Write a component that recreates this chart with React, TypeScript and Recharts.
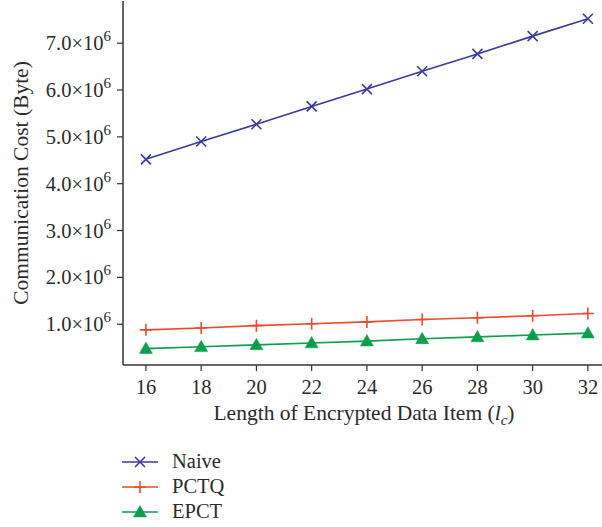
import { LineChart, Line, XAxis, YAxis } from 'recharts';

const lengths = [16, 18, 20, 22, 24, 26, 28, 30, 32];
const naive = [4.52e6, 4.9e6, 5.27e6, 5.65e6, 6.02e6, 6.4e6, 6.77e6, 7.15e6, 7.52e6];
const pctq = [0.88e6, 0.92e6, 0.97e6, 1.01e6, 1.05e6, 1.1e6, 1.14e6, 1.18e6, 1.23e6];
const epct = [0.48e6, 0.52e6, 0.56e6, 0.6e6, 0.64e6, 0.69e6, 0.73e6, 0.77e6, 0.81e6];
const yTicks = [1e6, 2e6, 3e6, 4e6, 5e6, 6e6, 7e6];

const data = lengths.map((l, i) => ({ l, naive: naive[i], pctq: pctq[i], epct: epct[i] }));

const FONT = '"Liberation Serif", "DejaVu Serif", serif';
const TEXT = '#2b2b2b';
const AXIS = '#333';

const SERIES = [
  { key: 'naive', name: 'Naive', color: '#3b3aa0', shape: 'x' },
  { key: 'pctq', name: 'PCTQ', color: '#ef4a2b', shape: 'plus' },
  { key: 'epct', name: 'EPCT', color: '#0b9f4c', shape: 'tri' },
];

function Marker({ cx, cy, shape, color }: any) {
  if (cx == null || cy == null) return null;
  if (shape === 'x') {
    const s = 5;
    return (
      <path d={`M${cx - s},${cy - s}L${cx + s},${cy + s}M${cx - s},${cy + s}L${cx + s},${cy - s}`} stroke={color} strokeWidth={1.6} fill="none" />
    );
  }
  if (shape === 'plus') {
    const s = 6;
    return <path d={`M${cx - s},${cy}L${cx + s},${cy}M${cx},${cy - s}L${cx},${cy + s}`} stroke={color} strokeWidth={1.6} fill="none" />;
  }
  const s = 6.5;
  return <path d={`M${cx},${cy - s}L${cx + s},${cy + s * 0.75}L${cx - s},${cy + s * 0.75}Z`} fill={color} stroke={color} strokeWidth={0.5} />;
}

function YTick({ x, y, payload }: any) {
  const mant = (payload.value / 1e6).toFixed(1);
  return (
    <text x={x - 4} y={y + 7} textAnchor="end" fontFamily={FONT} fontSize={20.5} fill={TEXT}>
      {mant}×10
      <tspan dy={-9} fontSize={15}>6</tspan>
    </text>
  );
}

function XTick({ x, y, payload }: any) {
  return (
    <text x={x} y={y + 21} textAnchor="middle" fontFamily={FONT} fontSize={20.5} fill={TEXT}>
      {payload.value}
    </text>
  );
}

function LegendBox() {
  return (
    <div style={{ position: 'absolute', left: 122, top: 449, fontFamily: FONT, fontSize: 20.5, color: TEXT }}>
      {SERIES.map((s) => (
        <div key={s.key} style={{ display: 'flex', alignItems: 'center', height: 25 }}>
          <svg width={36} height={20} style={{ marginRight: 14 }}>
            <line x1={0} y1={10} x2={36} y2={10} stroke={s.color} strokeWidth={1.6} />
            <Marker cx={18} cy={10} shape={s.shape} color={s.color} />
          </svg>
          <span>{s.name}</span>
        </div>
      ))}
    </div>
  );
}

export default function App() {
  return (
    <div style={{ position: 'absolute', left: 0, top: 0, width: 602, height: 527, overflow: 'hidden', background: '#fff' }}>
      <LineChart width={612} height={527} data={data} margin={{ top: 1, right: 2, left: 0, bottom: 102 }}>
        <XAxis
          dataKey="l"
          type="number"
          domain={[15.17, 32.8]}
          ticks={lengths}
          allowDataOverflow
          height={60}
          axisLine={{ stroke: AXIS, strokeWidth: 1.5 }}
          tickLine={{ stroke: AXIS, strokeWidth: 1.2 }}
          tickSize={6}
          tick={<XTick />}
          interval={0}
        />
        <XAxis xAxisId="top" orientation="top" dataKey="l" type="number" domain={[15.17, 32.8]} height={0} tick={false} tickLine={false} axisLine={{ stroke: AXIS, strokeWidth: 1.5 }} allowDataOverflow />
        <YAxis
          type="number"
          domain={[0.13e6, 7.9e6]}
          ticks={yTicks}
          allowDataOverflow
          width={123}
          axisLine={{ stroke: AXIS, strokeWidth: 1.5 }}
          tickLine={{ stroke: AXIS, strokeWidth: 1.2 }}
          tickSize={6}
          tick={<YTick />}
          interval={0}
        />
        {SERIES.map((s) => (
          <Line
            key={s.key}
            dataKey={s.key}
            name={s.name}
            stroke={s.color}
            strokeWidth={1.6}
            isAnimationActive={false}
            dot={(p: any) => <Marker key={p.index} cx={p.cx} cy={p.cy} shape={s.shape} color={s.color} />}
            activeDot={false}
          />
        ))}
        <text x={364} y={420} textAnchor="middle" fontFamily={FONT} fontSize={21.5} fill={TEXT}>
          Length of Encrypted Data Item (<tspan fontStyle="italic">l</tspan>
          <tspan fontStyle="italic" fontSize={15} dy={5}>c</tspan>
          <tspan dy={-5}>)</tspan>
        </text>
        <text x={28} y={183} transform="rotate(-90 28 183)" textAnchor="middle" fontFamily={FONT} fontSize={21.5} fill={TEXT}>
          Communication Cost (Byte)
        </text>
      </LineChart>
      <LegendBox />
    </div>
  );
}
